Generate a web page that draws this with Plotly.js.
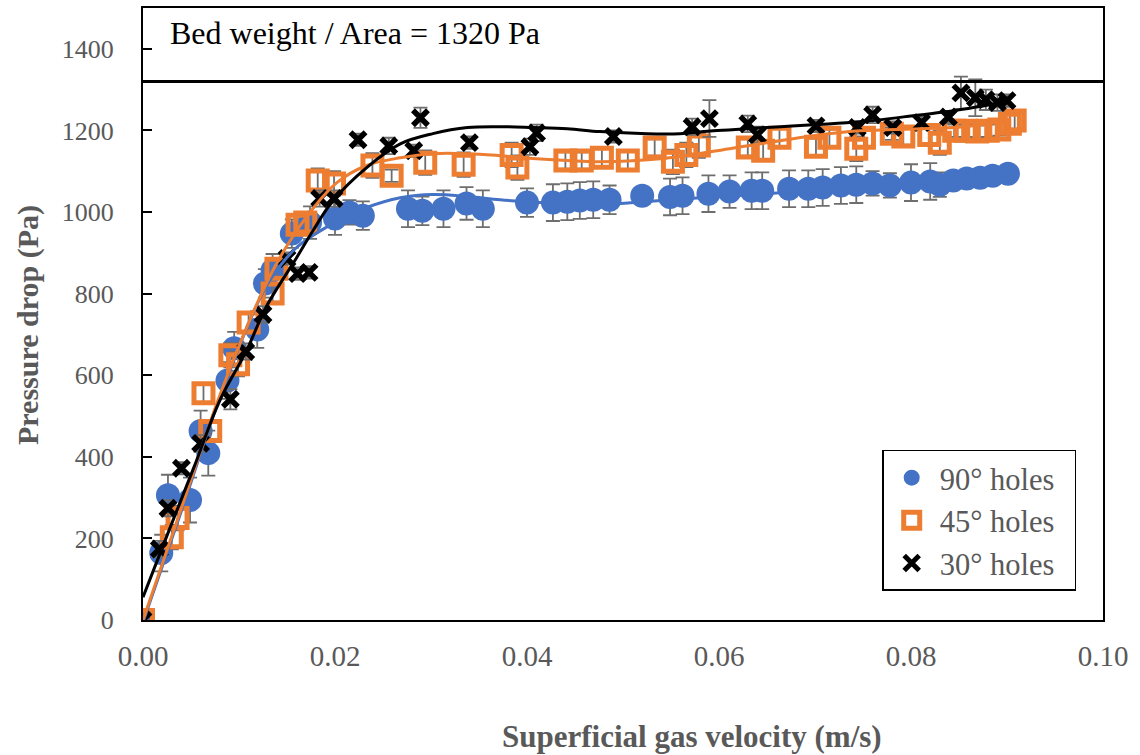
<!DOCTYPE html>
<html>
<head>
<meta charset="utf-8">
<script src="https://cdn.plot.ly/plotly-3.0.1.min.js"></script>
<style>html,body{margin:0;padding:0;background:#fff;}#chart{width:1140px;height:755px;}</style>
</head>
<body>
<div id="chart"></div>
<script>
// ---- data ----
const x90 = [0, 0.0019, 0.0026, 0.0049, 0.0060, 0.0068, 0.0088, 0.0095, 0.0119, 0.0127, 0.0135, 0.0155, 0.0174, 0.0200, 0.0215, 0.0229, 0.0276, 0.0291, 0.0313, 0.0337, 0.0354, 0.0400, 0.0427, 0.0442, 0.0455, 0.0469, 0.0486, 0.0520, 0.0549, 0.0562, 0.0589, 0.0611, 0.0634, 0.0645, 0.0673, 0.0693, 0.0708, 0.0727, 0.0743, 0.0760, 0.0778, 0.0800, 0.0820, 0.0830, 0.0844, 0.0858, 0.0872, 0.0885, 0.0901];
const y90 = [0, 164, 306, 294, 463, 409, 587, 666, 712, 825, 857, 947, 974, 984, 999, 991, 1008, 1003, 1008, 1021, 1008, 1023, 1023, 1025, 1028, 1030, 1030, 1040, 1037, 1040, 1045, 1050, 1052, 1052, 1057, 1057, 1060, 1065, 1067, 1070, 1065, 1072, 1075, 1067, 1077, 1082, 1084, 1089, 1094];
const e90 = [0, 45, 50, 55, 50, 55, 45, 40, 45, 35, 40, 35, 40, 40, 30, 35, 45, 35, 45, 40, 45, 35, 45, 45, 45, 45, 35, 20, 45, 45, 45, 40, 45, 45, 45, 45, 45, 45, 45, 30, 30, 45, 45, 30, 20, 15, 15, 15, 15];

const x45 = [0, 0.0030, 0.0036, 0.0063, 0.0070, 0.0091, 0.0099, 0.0110, 0.0135, 0.0139, 0.0161, 0.0169, 0.0182, 0.0199, 0.0239, 0.0259, 0.0294, 0.0334, 0.0384, 0.0390, 0.0440, 0.0457, 0.0478, 0.0505, 0.0533, 0.0552, 0.0566, 0.0579, 0.0630, 0.0646, 0.0663, 0.0701, 0.0715, 0.0743, 0.0751, 0.0780, 0.0792, 0.0819, 0.0830, 0.0845, 0.0857, 0.0869, 0.0880, 0.0892, 0.0903, 0.0908];
const y45 = [0, 203, 250, 556, 463, 649, 627, 729, 800, 861, 969, 974, 1077, 1070, 1114, 1089, 1121, 1116, 1140, 1109, 1126, 1126, 1133, 1126, 1158, 1123, 1140, 1163, 1158, 1150, 1182, 1160, 1182, 1155, 1182, 1192, 1185, 1189, 1170, 1199, 1199, 1197, 1199, 1202, 1216, 1224];
const e45 = [0, 30, 30, 25, 25, 30, 30, 25, 20, 25, 25, 25, 30, 30, 30, 15, 30, 30, 30, 30, 20, 20, 25, 25, 20, 30, 30, 30, 20, 20, 25, 20, 20, 30, 20, 15, 20, 20, 30, 15, 15, 15, 15, 15, 25, 20];

const x30 = [0, 0.0017, 0.0026, 0.0040, 0.0060, 0.0091, 0.0107, 0.0125, 0.0150, 0.0161, 0.0173, 0.0184, 0.0199, 0.0224, 0.0256, 0.0282, 0.0289, 0.0340, 0.0403, 0.0410, 0.0490, 0.0572, 0.0590, 0.0630, 0.0640, 0.0701, 0.0744, 0.0760, 0.0781, 0.0811, 0.0839, 0.0852, 0.0867, 0.0878, 0.0890, 0.0900];
const y30 = [0, 174, 274, 372, 433, 541, 658, 749, 886, 849, 852, 1033, 1033, 1177, 1162, 1150, 1231, 1170, 1160, 1194, 1185, 1209, 1229, 1216, 1189, 1211, 1207, 1238, 1207, 1219, 1233, 1292, 1280, 1275, 1268, 1273];
const e30 = [0, 20, 20, 15, 20, 25, 20, 20, 15, 15, 15, 20, 20, 15, 20, 15, 25, 15, 20, 20, 15, 20, 45, 20, 20, 15, 15, 20, 15, 15, 15, 40, 45, 25, 20, 15];

// trend curves
const tx90 = [0, 0.0041, 0.0078, 0.0117, 0.0132, 0.0160, 0.0198, 0.0233, 0.0268, 0.0302, 0.0338, 0.0372, 0.0414, 0.0455, 0.0497, 0.0539, 0.0601, 0.0664, 0.0726, 0.0789, 0.0851, 0.0901];
const ty90 = [-5, 274, 533, 764, 832, 913, 972, 1011, 1035, 1043, 1038, 1030, 1023, 1018, 1021, 1028, 1038, 1047, 1057, 1067, 1079, 1092];
const tx45 = [0, 0.0041, 0.0078, 0.0111, 0.0138, 0.0169, 0.0202, 0.0233, 0.0268, 0.0302, 0.0338, 0.0372, 0.0406, 0.0442, 0.0476, 0.0542, 0.0611, 0.0698, 0.0747, 0.0809, 0.0856, 0.0903];
const ty45 = [0, 281, 538, 734, 869, 984, 1072, 1114, 1133, 1143, 1143, 1138, 1131, 1126, 1123, 1131, 1155, 1187, 1199, 1204, 1209, 1224];
const tx30 = [0, 0.0026, 0.0053, 0.0080, 0.0108, 0.0128, 0.0160, 0.0177, 0.0198, 0.0233, 0.0268, 0.0302, 0.0338, 0.0372, 0.0406, 0.0442, 0.0476, 0.0525, 0.0559, 0.0594, 0.0629, 0.0664, 0.0698, 0.0747, 0.0809, 0.0844, 0.0900];
const ty30 = [56, 213, 374, 538, 661, 766, 888, 954, 1028, 1109, 1167, 1192, 1207, 1209, 1207, 1204, 1197, 1192, 1192, 1199, 1204, 1209, 1214, 1221, 1238, 1248, 1270];

const seriesNames = ['90° holes', '45° holes', '30° holes'];
const bedWeight = 1320;
const xTitle = 'Superficial gas velocity (m/s)';
const yTitle = 'Pressure drop (Pa)';
const noteText = 'Bed weight / Area = 1320 Pa';

const BLUE = '#4472C4', ORANGE = '#ED7D31', BLACK = '#000000', GREY = '#595959';
const FONT = 'Liberation Serif, Times New Roman, serif';
const PAD = '\u00a0\u00a0';
const errStyle = (arr) => ({type: 'data', array: arr, visible: true, color: '#6e6e6e', thickness: 1.8, width: 7});

const traces = [
  {x: x90, y: y90, name: seriesNames[0] + PAD, mode: 'markers', type: 'scatter', legendgroup: 'a',
   marker: {symbol: 'circle', size: 24, color: BLUE}, error_y: errStyle(e90)},
  {x: x45, y: y45, name: seriesNames[1] + PAD, mode: 'markers', type: 'scatter', legendgroup: 'b',
   marker: {symbol: 'square-open', size: 19, color: ORANGE, line: {color: ORANGE, width: 5}}, error_y: errStyle(e45)},
  {x: x30, y: y30, name: seriesNames[2] + PAD, mode: 'markers', type: 'scatter', legendgroup: 'c',
   marker: {symbol: 'x-thin-open', size: 15, color: BLACK, line: {color: BLACK, width: 5.5}}, error_y: errStyle(e30)},
  {x: tx90, y: ty90, mode: 'lines', type: 'scatter', showlegend: false, hoverinfo: 'skip',
   line: {color: BLUE, width: 3, shape: 'spline', smoothing: 1}},
  {x: tx45, y: ty45, mode: 'lines', type: 'scatter', showlegend: false, hoverinfo: 'skip',
   line: {color: ORANGE, width: 3, shape: 'spline', smoothing: 1}},
  {x: tx30, y: ty30, mode: 'lines', type: 'scatter', showlegend: false, hoverinfo: 'skip',
   line: {color: BLACK, width: 3, shape: 'spline', smoothing: 1}}
];

const layout = {
  width: 1140, height: 755,
  margin: {l: 143, r: 37, t: 8, b: 135},
  paper_bgcolor: '#fff', plot_bgcolor: '#fff',
  font: {family: FONT, color: GREY, size: 25},
  showlegend: true,
  xaxis: {range: [0, 0.10], dtick: 0.02, tick0: 0, tickformat: '.2f', showgrid: false, zeroline: false,
          showline: true, linecolor: '#000', linewidth: 2, mirror: true, ticks: '',
          ticklabelstandoff: 9, tickfont: {family: FONT, size: 29, color: GREY}},
  yaxis: {range: [0, 1500], dtick: 200, tick0: 0, tickformat: 'd', showgrid: false, zeroline: false,
          showline: true, linecolor: '#000', linewidth: 2, mirror: true, ticks: 'inside', ticklen: 9, tickwidth: 2, tickcolor: '#000',
          ticklabelstandoff: 22, tickfont: {family: FONT, size: 26, color: GREY}},
  legend: {x: 0.77, y: 0.278, xanchor: 'left', yanchor: 'top', bgcolor: '#fff', bordercolor: '#000', borderwidth: 1.5,
           font: {family: FONT, size: 30.5, color: GREY}, tracegroupgap: 0, itemwidth: 46},
  shapes: [{type: 'line', xref: 'paper', x0: 0, x1: 1, yref: 'y', y0: bedWeight, y1: bedWeight,
            line: {color: '#000', width: 3}}],
  annotations: [
    {text: noteText, xref: 'paper', yref: 'paper', x: 0.026, y: 0.959, xanchor: 'left', yanchor: 'middle',
     showarrow: false, font: {family: FONT, size: 32, color: '#000'}},
    {text: '<b>' + xTitle + '</b>', xref: 'paper', yref: 'paper', x: 0.572, y: -0.191, xanchor: 'center', yanchor: 'middle',
     showarrow: false, font: {family: FONT, size: 31, color: GREY}},
    {text: '<b>' + yTitle + '</b>', xref: 'paper', yref: 'paper', x: -0.1198, y: 0.482, xanchor: 'center', yanchor: 'middle',
     textangle: -90, showarrow: false, font: {family: FONT, size: 30, color: GREY}}
  ]
};

Plotly.newPlot('chart', traces, layout, {displayModeBar: false, staticPlot: true});
</script>
</body>
</html>
